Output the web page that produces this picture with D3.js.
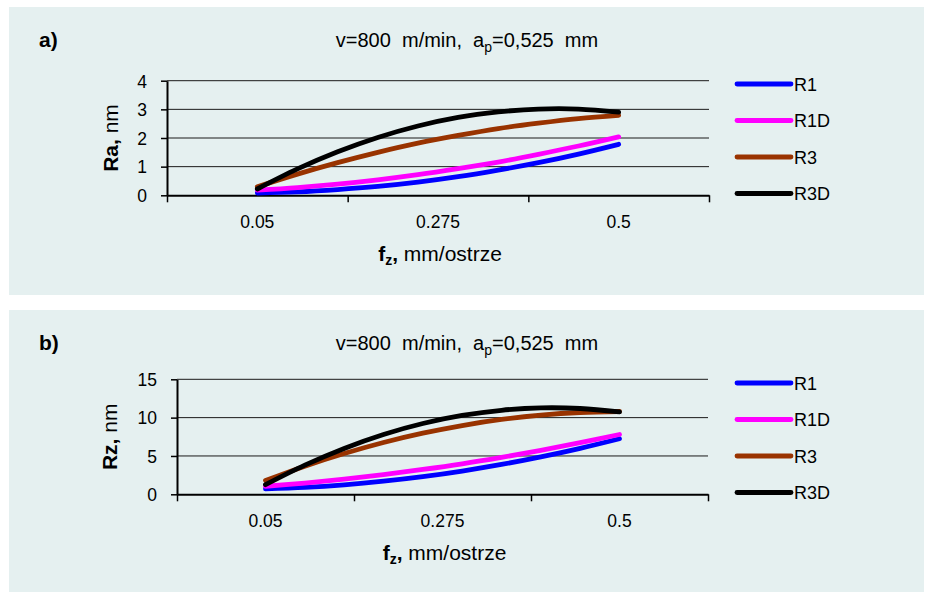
<!DOCTYPE html>
<html>
<head>
<meta charset="utf-8">
<script src="https://cdn.jsdelivr.net/npm/d3@7"></script>
<style>
  body { margin: 0; background: #fff; }
  svg { display: block; font-family: "Liberation Sans", Arial, sans-serif; }
</style>
</head>
<body>
<svg id="chart" width="925" height="592"></svg>
<script>
// values
const categories = ['0.05', '0.275', '0.5'];
const fz = [0.05, 0.10, 0.15, 0.20, 0.25, 0.30, 0.35, 0.40, 0.45, 0.50];
const seriesNames = ['R1', 'R1D', 'R3', 'R3D'];

const raR1  = [0.08, 0.12, 0.20, 0.31, 0.46, 0.65, 0.88, 1.14, 1.44, 1.78];
const raR1D = [0.18, 0.27, 0.39, 0.54, 0.72, 0.93, 1.16, 1.43, 1.72, 2.04];
const raR3  = [0.30, 0.74, 1.14, 1.50, 1.82, 2.09, 2.33, 2.52, 2.68, 2.79];
const raR3D = [0.22, 0.92, 1.52, 2.02, 2.42, 2.72, 2.91, 3.01, 3.01, 2.90];

const rzR1  = [0.70, 0.90, 1.24, 1.71, 2.30, 3.03, 3.89, 4.88, 6.00, 7.25];
const rzR1D = [1.05, 1.47, 1.98, 2.57, 3.24, 3.98, 4.82, 5.73, 6.73, 7.80];
const rzR3  = [1.80, 3.67, 5.32, 6.76, 7.97, 8.97, 9.76, 10.32, 10.67, 10.80];
const rzR3D = [1.25, 3.80, 5.98, 7.80, 9.23, 10.28, 10.96, 11.27, 11.19, 10.75];

const raTicks = [0, 1, 2, 3, 4];
const rzTicks = [0, 5, 10, 15];

const colors = ['#0000ff', '#ff00ff', '#993300', '#000000'];

const svg = d3.select('#chart');

function drawPanel(opt) {
    const g = svg.append('g');

    g.append('rect')
        .attr('x', 9).attr('y', opt.top)
        .attr('width', 915).attr('height', opt.height)
        .attr('fill', '#e5f0f0');

    // panel letter
    g.append('text')
        .attr('x', 39).attr('y', opt.top + 40)
        .style('font-size', '21px').style('font-weight', 'bold')
        .text(opt.letter);

    // title with subscript
    const title = g.append('text')
        .attr('x', 467).attr('y', opt.top + 40)
        .attr('text-anchor', 'middle')
        .style('font-size', '20px')
        .attr('xml:space', 'preserve');
    title.append('tspan').text('v=800  m/min,  a');
    title.append('tspan').attr('dy', 5).style('font-size', '14px').text('p');
    title.append('tspan').attr('dy', -5).text('=0,525  mm');

    const band = d3.scaleBand().domain(categories).range([opt.x0, opt.x1]);
    const half = band.bandwidth() / 2;
    const x = d3.scaleLinear()
        .domain([+categories[0], +categories[categories.length - 1]])
        .range([band(categories[0]) + half, band(categories[categories.length - 1]) + half]);
    const y = d3.scaleLinear()
        .domain([0, opt.ticks[opt.ticks.length - 1]])
        .range([opt.y0, opt.y1]);

    // gridlines
    g.append('g').selectAll('line')
        .data(opt.ticks.slice(1))
        .join('line')
        .attr('x1', opt.x0).attr('x2', opt.x1)
        .attr('y1', d => y(d)).attr('y2', d => y(d))
        .attr('stroke', '#1a1a1a').attr('stroke-width', 1);

    // y axis
    const yAxis = g.append('g')
        .attr('transform', `translate(${opt.x0},0)`)
        .call(d3.axisLeft(y).tickValues(opt.ticks).tickFormat(d3.format('d'))
            .tickSize(6).tickSizeOuter(0).tickPadding(14));
    yAxis.select('.domain').attr('stroke-width', 2);
    yAxis.selectAll('.tick line').attr('stroke-width', 1.5);
    yAxis.selectAll('text')
        .style('font-size', '17.5px')
        .style('font-family', '"Liberation Sans", Arial, sans-serif')
        .attr('fill', '#000')
        .attr('dy', '0.36em');

    // x axis: tick marks at band edges, labels at band centers
    const edges = categories.map(c => band(c)).concat([opt.x1]);
    const xEdge = d3.scaleLinear().domain([opt.x0, opt.x1]).range([opt.x0, opt.x1]);
    const xAxis = g.append('g')
        .attr('transform', `translate(0,${opt.y0})`)
        .call(d3.axisBottom(xEdge).tickValues(edges).tickSize(7).tickSizeOuter(0).tickFormat(''));
    xAxis.select('.domain').attr('stroke-width', 2);
    xAxis.selectAll('.tick line').attr('stroke-width', 1.5);

    g.append('g').selectAll('text')
        .data(categories)
        .join('text')
        .attr('x', d => band(d) + half)
        .attr('y', opt.y0 + 33)
        .attr('text-anchor', 'middle')
        .style('font-size', '17.5px')
        .text(d => d);

    // x label
    const xl = g.append('text')
        .attr('x', (opt.x0 + opt.x1) / 2 + 2).attr('y', opt.y0 + 66)
        .attr('text-anchor', 'middle')
        .style('font-size', '21px');
    xl.append('tspan').style('font-weight', 'bold').text('f');
    xl.append('tspan').style('font-weight', 'bold').style('font-size', '14px').attr('dy', 4).text('z');
    xl.append('tspan').style('font-weight', 'bold').attr('dy', -4).text(',');
    xl.append('tspan').text(' mm/ostrze');

    // y label
    const yl = g.append('text')
        .attr('transform', `translate(${opt.labelX},${(opt.y0 + opt.y1) / 2}) rotate(-90)`)
        .attr('text-anchor', 'middle')
        .style('font-size', '21px');
    yl.append('tspan').style('font-weight', 'bold').text(opt.yName + ', ');
    yl.append('tspan').text('nm');

    // series
    const line = d3.line()
        .x((d, i) => x(fz[i]))
        .y(d => y(d))
        .curve(d3.curveCatmullRom);

    g.append('g').selectAll('path')
        .data(opt.series)
        .join('path')
        .attr('d', d => line(d))
        .attr('fill', 'none')
        .attr('stroke', (d, i) => colors[i])
        .attr('stroke-width', 4.8)
        .attr('stroke-linecap', 'round');

    // legend
    const leg = g.append('g').selectAll('g')
        .data(seriesNames)
        .join('g')
        .attr('transform', (d, i) => `translate(737,${opt.legendTop + i * 36.5})`);
    leg.append('line')
        .attr('x1', 0).attr('x2', 54)
        .attr('stroke', (d, i) => colors[i])
        .attr('stroke-width', 4.8)
        .attr('stroke-linecap', 'round');
    leg.append('text')
        .attr('x', 57).attr('y', 6.5)
        .style('font-size', '18px')
        .text(d => d);
}

drawPanel({
    letter: 'a)', top: 7, height: 288,
    x0: 167, x1: 709, y0: 195.3, y1: 80.7,
    ticks: raTicks, yName: 'Ra', labelX: 118,
    series: [raR1, raR1D, raR3, raR3D],
    legendTop: 84
});

drawPanel({
    letter: 'b)', top: 310, height: 282,
    x0: 177, x1: 708, y0: 494.3, y1: 379.3,
    ticks: rzTicks, yName: 'Rz', labelX: 117,
    series: [rzR1, rzR1D, rzR3, rzR3D],
    legendTop: 383
});
</script>
</body>
</html>
